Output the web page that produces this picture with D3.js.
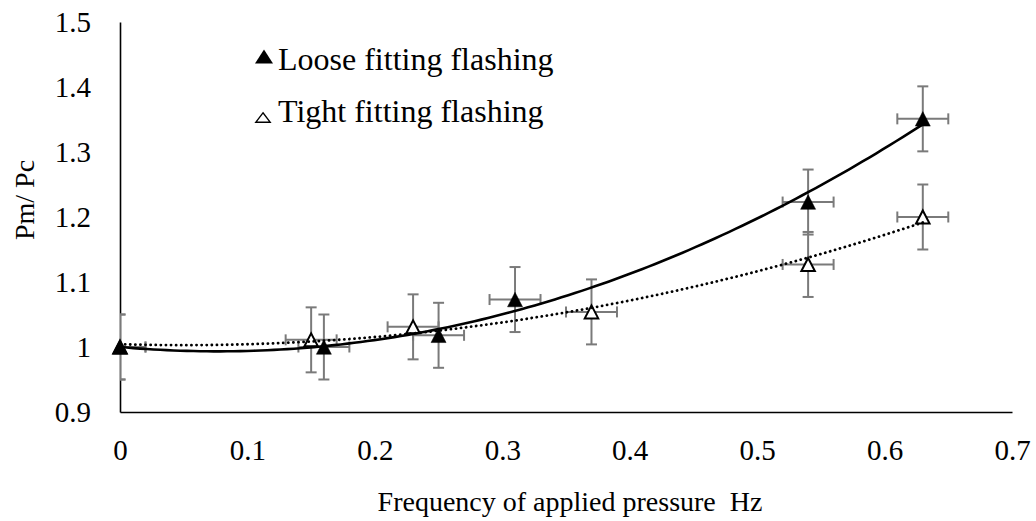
<!DOCTYPE html>
<html><head><meta charset="utf-8">
<script src="https://cdn.jsdelivr.net/npm/d3@7"></script>
<style>body{margin:0;background:#fff}</style>
</head><body><svg id="c" width="1036" height="521"></svg>
<script>
// ---- data ----
const xTickValues = [0, 0.1, 0.2, 0.3, 0.4, 0.5, 0.6, 0.7];
const xTickLabels = ["0", "0.1", "0.2", "0.3", "0.4", "0.5", "0.6", "0.7"];
const yTickValues = [0.9, 1.0, 1.1, 1.2, 1.3, 1.4, 1.5];
const yTickLabels = ["0.9", "1", "1.1", "1.2", "1.3", "1.4", "1.5"];
const seriesNames = ["Loose fitting flashing", "Tight fitting flashing"];
const looseX = [0, 0.16, 0.25, 0.31, 0.54, 0.63];
const looseY = [1.0, 1.0, 1.018, 1.073, 1.223, 1.351];
const tightX = [0, 0.15, 0.23, 0.37, 0.54, 0.63];
const tightY = [1.0, 1.011, 1.031, 1.054, 1.127, 1.2];
const yErr = 0.05;
const xErr = 0.02;
const xTitle = "Frequency of applied pressure  Hz";
const yTitle = "Pm/ Pc";

// ---- helpers ----
function polyFit2(xs, ys) {
  // least squares y = c0 + c1 x + c2 x^2
  let S = [0,0,0,0,0], T = [0,0,0];
  xs.forEach((x, i) => {
    for (let k = 0; k < 5; k++) S[k] += Math.pow(x, k);
    for (let k = 0; k < 3; k++) T[k] += Math.pow(x, k) * ys[i];
  });
  const M = [[S[0],S[1],S[2],T[0]],[S[1],S[2],S[3],T[1]],[S[2],S[3],S[4],T[2]]];
  for (let i = 0; i < 3; i++) {
    let p = i;
    for (let r = i+1; r < 3; r++) if (Math.abs(M[r][i]) > Math.abs(M[p][i])) p = r;
    [M[i], M[p]] = [M[p], M[i]];
    for (let r = 0; r < 3; r++) if (r !== i) {
      const f = M[r][i] / M[i][i];
      for (let c = i; c < 4; c++) M[r][c] -= f * M[i][c];
    }
  }
  return [M[0][3]/M[0][0], M[1][3]/M[1][1], M[2][3]/M[2][2]];
}

const svg = d3.select("#c");
const font = "'Liberation Serif','Times New Roman',serif";
const x = d3.scaleLinear().domain([0, 0.7]).range([120, 1012]);
const y = d3.scaleLinear().domain([0.9, 1.5]).range([412, 22]);

// axes
const xAxis = d3.axisBottom(x).tickValues(xTickValues)
  .tickFormat((d, i) => xTickLabels[i]).tickSizeInner(0).tickSizeOuter(0).tickPadding(27);
const yAxis = d3.axisLeft(y).tickValues(yTickValues)
  .tickFormat((d, i) => yTickLabels[i]).tickSizeInner(0).tickSizeOuter(0).tickPadding(29);
const gx = svg.append("g").attr("transform", `translate(0,${y(0.9)})`).call(xAxis);
const gy = svg.append("g").attr("transform", `translate(${x(0)},0)`).call(yAxis);
[gx, gy].forEach(g => {
  g.select(".domain").attr("stroke", "#000").attr("stroke-width", 1.6);
  g.selectAll("text").attr("font-family", font).attr("font-size", 29).attr("fill", "#000");
});

// titles
svg.append("text").attr("x", 570).attr("y", 511).attr("text-anchor", "middle")
  .attr("font-family", font).attr("font-size", 28).style("white-space", "pre").text(xTitle);
svg.append("text").attr("transform", "translate(34,200) rotate(-90)").attr("text-anchor", "middle")
  .attr("font-family", font).attr("font-size", 28).text(yTitle);

// clip for error bars
svg.append("clipPath").attr("id", "pa").append("rect")
  .attr("x", x(0)).attr("y", y(1.5)).attr("width", x(0.7) - x(0)).attr("height", y(0.9) - y(1.5));

const series = [
  { name: seriesNames[1], xs: tightX, ys: tightY, filled: false, dash: "0.1 5" },
  { name: seriesNames[0], xs: looseX, ys: looseY, filled: true, dash: null }
];

const errColor = "#7a7a7a";
const eb = svg.append("g").attr("clip-path", "url(#pa)");
const mk = svg.append("g");
const tl = svg.append("g");
const cap = 5.5;

function tri(cx, cy, w, h) {
  return `M${cx},${cy - h/2}L${cx + w/2},${cy + h/2}L${cx - w/2},${cy + h/2}Z`;
}

series.forEach(s => {
  const pts = s.xs.map((v, i) => ({ x: v, y: s.ys[i] }));
  const g = eb.append("g").attr("stroke", errColor).attr("stroke-width", 2).attr("fill", "none");
  pts.forEach(p => {
    const px = x(p.x), py = y(p.y);
    const y0 = y(p.y - yErr), y1 = y(p.y + yErr), x0 = x(p.x - xErr), x1 = x(p.x + xErr);
    g.append("line").attr("x1", px).attr("x2", px).attr("y1", y0).attr("y2", y1);
    g.append("line").attr("x1", px - cap).attr("x2", px + cap).attr("y1", y0).attr("y2", y0);
    g.append("line").attr("x1", px - cap).attr("x2", px + cap).attr("y1", y1).attr("y2", y1);
    g.append("line").attr("x1", x0).attr("x2", x1).attr("y1", py).attr("y2", py);
    g.append("line").attr("x1", x0).attr("x2", x0).attr("y1", py - cap).attr("y2", py + cap);
    g.append("line").attr("x1", x1).attr("x2", x1).attr("y1", py - cap).attr("y2", py + cap);
  });
  mk.selectAll(null).data(pts).enter().append("path")
    .attr("d", p => tri(x(p.x), y(p.y), s.filled ? 15 : 13.5, s.filled ? 14.5 : 13))
    .attr("fill", s.filled ? "#000" : "#fff").attr("stroke", "#000")
    .attr("stroke-width", s.filled ? 0.5 : 2).attr("stroke-linejoin", "miter");
  // trendline (2nd order polynomial)
  const c = polyFit2(s.xs, s.ys);
  const xmin = d3.min(s.xs), xmax = d3.max(s.xs);
  const samples = d3.range(0, 121).map(i => xmin + (xmax - xmin) * i / 120);
  const line = d3.line().x(d => x(d)).y(d => y(c[0] + c[1]*d + c[2]*d*d));
  const path = tl.append("path").datum(samples).attr("d", line)
    .attr("fill", "none").attr("stroke", "#000").attr("stroke-width", 2.6);
  if (s.dash) path.attr("stroke-dasharray", s.dash).attr("stroke-linecap", "round").attr("stroke-width", 2.8);
});

// legend
const lg = svg.append("g");
lg.append("path").attr("d", tri(264, 56.5, 18, 14)).attr("fill", "#000");
lg.append("text").attr("x", 278).attr("y", 70).attr("font-family", font).attr("font-size", 32).text(seriesNames[0]);
lg.append("path").attr("d", tri(263, 117.5, 14.5, 9.5)).attr("fill", "#fff").attr("stroke", "#000").attr("stroke-width", 1.3);
lg.append("text").attr("x", 278).attr("y", 122).attr("font-family", font).attr("font-size", 32).text(seriesNames[1]);
</script>
</body></html>
